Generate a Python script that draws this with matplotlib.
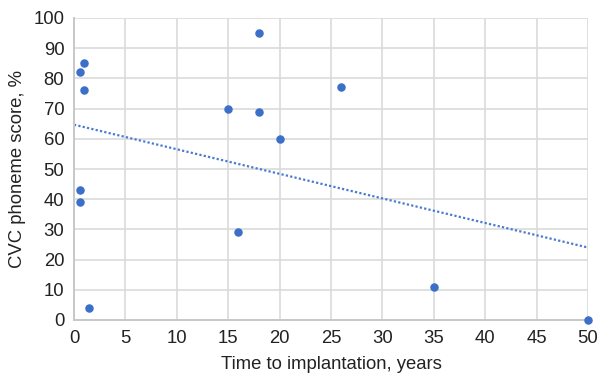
import numpy as np
import matplotlib.pyplot as plt

plt.rcParams['font.family'] = ['Liberation Sans', 'DejaVu Sans']

# Datos
years = [0.6, 1.0, 1.0, 0.6, 0.6, 1.5, 15, 18, 18, 20, 16, 26, 35, 50]
score = [82, 85, 76, 43, 39, 4, 70, 95, 69, 60, 29, 77, 11, 0]
xticks = list(range(0, 55, 5))
yticks = list(range(0, 110, 10))

color = '#3b6fc8'

fig = plt.figure(figsize=(6.01, 3.75), dpi=100)
ax = fig.add_axes([74 / 601, 55 / 375, 514 / 601, 302 / 375])

ax.scatter(years, score, s=26, color=color, zorder=3, clip_on=False)

# Línea de tendencia lineal
m, b = np.polyfit(years, score, 1)
xl = np.array([0, 50])
ax.plot(xl, m * xl + b, linestyle=(0, (1, 1)), color='#4a7bd0', linewidth=1.6, zorder=2)

ax.set_xlim(0, 50)
ax.set_ylim(0, 100)
ax.set_xticks(xticks)
ax.set_yticks(yticks)
ax.grid(color='#dadada', linewidth=1.2)
ax.set_axisbelow(True)
for s in ['top', 'right']:
    ax.spines[s].set_visible(False)
for s in ['left', 'bottom']:
    ax.spines[s].set_color('#c8c8c8')
    ax.spines[s].set_linewidth(1.4)
ax.tick_params(length=0, labelsize=13.3, colors='#222222', pad=7)
ax.set_xlabel('Time to implantation, years', fontsize=13.3, color='#222222', labelpad=7)
ax.set_ylabel('CVC phoneme score, %', fontsize=13.3, color='#222222', labelpad=5)

fig.savefig('out.png', dpi=100)
